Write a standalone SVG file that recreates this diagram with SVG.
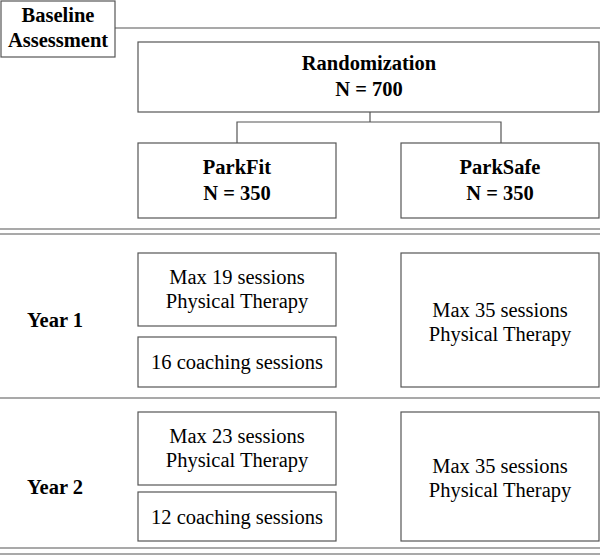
<svg xmlns="http://www.w3.org/2000/svg" width="600" height="560" viewBox="0 0 600 560">
<style>
.box{fill:#fff;stroke:#555;stroke-width:1.2}
.ln{stroke:#555;stroke-width:1.2;fill:none}
.b{font-family:"Liberation Serif",serif;font-weight:bold;font-size:20.5px;fill:#000;text-anchor:middle}
.r{font-family:"Liberation Serif",serif;font-size:20.5px;fill:#000;text-anchor:middle}
</style>
<rect width="600" height="560" fill="#fff"/>
<g id="lines">
<line class="ln" x1="115" y1="28" x2="600" y2="28"/>
<line class="ln" x1="0" y1="229" x2="600" y2="229"/>
<line class="ln" x1="0" y1="234" x2="600" y2="234"/>
<line class="ln" x1="0" y1="398" x2="600" y2="398"/>
<line class="ln" x1="0" y1="548" x2="600" y2="548"/>
<line class="ln" x1="0" y1="554" x2="600" y2="554"/>
</g>
<g id="connectors">
<path class="ln" d="M370 112V122M237 143V122H501V143"/>
</g>
<g id="baseline"><rect class="box" x="1" y="1" width="114" height="56"/><text class="b" x="58" y="22">Baseline</text><text class="b" x="58" y="47">Assessment</text></g>
<g id="randomization"><rect class="box" x="138" y="42" width="461" height="70"/><text class="b" x="369" y="70">Randomization</text><text class="b" x="369" y="96">N = 700</text></g>
<g id="parkfit"><rect class="box" x="138" y="143" width="198" height="75"/><text class="b" x="237" y="174">ParkFit</text><text class="b" x="237" y="200">N = 350</text></g>
<g id="parksafe"><rect class="box" x="401" y="143" width="198" height="75"/><text class="b" x="500" y="174">ParkSafe</text><text class="b" x="500" y="200">N = 350</text></g>
<g id="year1"><text class="b" x="55" y="327">Year 1</text></g>
<g id="pf-y1-pt"><rect class="box" x="138" y="253" width="198" height="73"/><text class="r" x="237" y="284">Max 19 sessions</text><text class="r" x="237" y="308">Physical Therapy</text></g>
<g id="pf-y1-coach"><rect class="box" x="138" y="337" width="198" height="50"/><text class="r" x="237" y="369">16 coaching sessions</text></g>
<g id="ps-y1"><rect class="box" x="401" y="253" width="198" height="134"/><text class="r" x="500" y="317">Max 35 sessions</text><text class="r" x="500" y="341">Physical Therapy</text></g>
<g id="year2"><text class="b" x="55" y="494">Year 2</text></g>
<g id="pf-y2-pt"><rect class="box" x="138" y="412" width="198" height="73"/><text class="r" x="237" y="443">Max 23 sessions</text><text class="r" x="237" y="467">Physical Therapy</text></g>
<g id="pf-y2-coach"><rect class="box" x="138" y="492" width="198" height="49"/><text class="r" x="237" y="524">12 coaching sessions</text></g>
<g id="ps-y2"><rect class="box" x="401" y="412" width="198" height="129"/><text class="r" x="500" y="473">Max 35 sessions</text><text class="r" x="500" y="497">Physical Therapy</text></g>
</svg>
